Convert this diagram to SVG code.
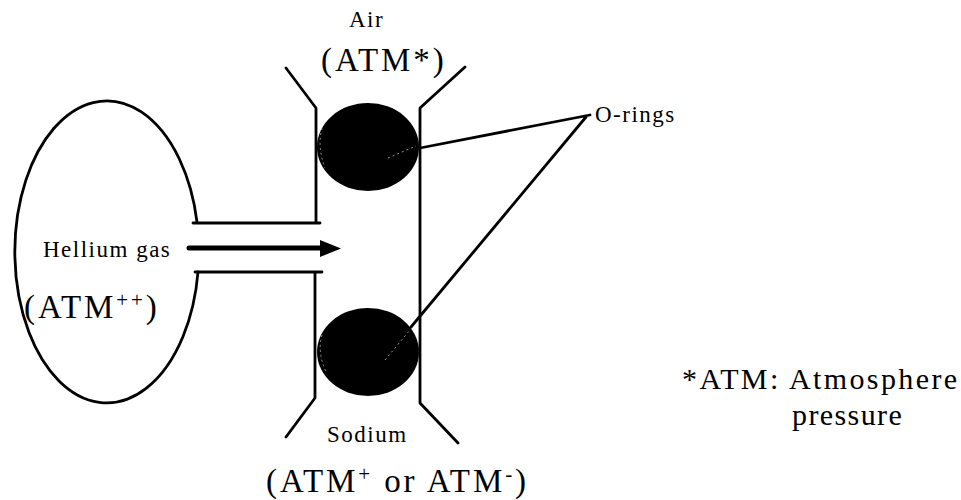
<svg xmlns="http://www.w3.org/2000/svg" width="961" height="500" viewBox="0 0 961 500">
<style>
.l{fill:none;stroke:#000;stroke-width:2.8;stroke-linecap:round;stroke-linejoin:round}
.t{font-family:"Liberation Serif",serif;fill:#000}
.s{font-size:23px;letter-spacing:1.5px}
.b{font-size:33px;letter-spacing:2.9px}
.m{font-size:30px;letter-spacing:2.4px}
.o{fill:#000}
.g{fill:none;stroke:#bbb;stroke-width:.8;stroke-dasharray:2 3}
</style>
<rect width="961" height="500" fill="#fff"/>
<g id="balloon"><path class="l" d="M197 222A92 151 0 1 0 198 272"/></g>
<g id="housing">
<path class="l" d="M286 68L316 108V222M193 223H320"/>
<path class="l" d="M465 67L420 108V403L458 443"/>
<path class="l" d="M195 272H322M315 272V398L286 437"/>
</g>
<g id="oring-top"><ellipse class="o" cx="368" cy="147" rx="51" ry="44"/><path class="g" d="M322 128Q317 147 325 168M388 158L416 146"/></g>
<g id="oring-bottom"><ellipse class="o" cx="368" cy="352" rx="51" ry="44"/><path class="g" d="M322 335Q317 352 326 372M385 360L410 330"/></g>
<g id="connectors">
<path class="l" d="M420 148L590 115M586 117L411 327"/>
<path d="M189 248H322" fill="none" stroke="#000" stroke-width="5" stroke-linecap="round"/>
<path d="M320 240L341 248.500L320 257Z"/>
</g>
<g id="labels">
<text class="t s" x="349" y="27">Air</text>
<text class="t b" x="321" y="71">(ATM*)</text>
<text class="t s" x="595" y="122">O-rings</text>
<text class="t s" x="43" y="257">Hellium gas</text>
<text class="t b" x="24" y="318">(ATM<tspan font-size="21" dy="-11">++</tspan><tspan dy="11">)</tspan></text>
<text class="t s" x="327" y="442">Sodium</text>
<text class="t b" x="266" y="492">(ATM<tspan font-size="21" dy="-11">+</tspan><tspan dy="11"> or ATM</tspan><tspan font-size="21" dy="-11">-</tspan><tspan dy="11">)</tspan></text>
<text class="t m" x="682" y="389">*ATM: Atmosphere</text>
<text class="t m" x="792" y="425" style="letter-spacing:1.4px">pressure</text>
</g>
</svg>
